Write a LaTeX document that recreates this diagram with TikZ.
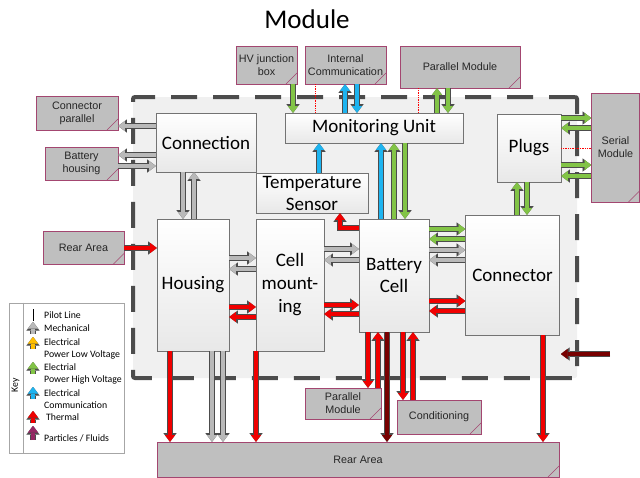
\documentclass[tikz,border=0pt]{standalone}
\usepackage{fontspec}
\setmainfont{Carlito}
\newfontfamily\arialfont{Liberation Sans}
\usetikzlibrary{arrows.meta}

\definecolor{boxedge}{RGB}{163,70,112}
\definecolor{elgreen}{RGB}{130,196,70}
\definecolor{elblue}{RGB}{30,180,240}
\definecolor{elorange}{RGB}{255,190,0}
\definecolor{thred}{RGB}{240,0,0}
\definecolor{darkred}{RGB}{120,0,0}
\definecolor{mechgray}{RGB}{185,185,185}
\definecolor{fluid}{RGB}{150,40,100}

\begin{document}
\begin{tikzpicture}[x=1pt,y=-1pt,
  box/.style={draw=black!55,line width=0.6pt,top color=white,bottom color=black!9,
    align=center,font=\fontsize{19}{23}\selectfont,inner sep=1pt},
  ext/.style={draw=boxedge,line width=0.6pt,fill=black!25,align=center,
    font=\arialfont\fontsize{10.8}{13}\selectfont,inner sep=1pt,text=black!85,
    path picture={\draw[boxedge,line width=0.6pt]
      ([xshift=-11pt]path picture bounding box.south east) --
      ([yshift=11pt]path picture bounding box.south east);}},
  modbox/.style={draw=black!70,line width=4pt,dash pattern=on 26pt off 16pt,
    fill=black!6,rounded corners=2pt},
  blk/.style={line width=3.4pt,draw=#1,-{Triangle[length=6.6pt,width=10pt,line width=0.01pt]},
    preaction={draw=black!70,line width=5.4pt,
      -{Triangle[length=8.6pt,width=13pt,line width=0.01pt]}}},
  pilot/.style={red,densely dotted,line width=0.7pt},
  keytxt/.style={anchor=west,align=left,font=\fontsize{9.8}{12}\selectfont,inner sep=0pt}]
\useasboundingbox (0,0) rectangle (640,477);

\node[font=\fontsize{27}{30}\selectfont] (title) at (307,19) {Module};
\node[modbox,minimum width=444,minimum height=281] (mod) at (355,237.5) {};

\node[box,minimum width=100,minimum height=59] (Con) at (206,142.5) {Connection};
\node[box,minimum width=178,minimum height=30] (MU) at (374,128) {Monitoring Unit};
\node[box,minimum width=112,minimum height=40,font=\fontsize{19}{22}\selectfont] (TS) at (312,193) {Temperature\\ Sensor};
\node[box,minimum width=64,minimum height=68] (Plg) at (529,148) {Plugs};
\node[box,minimum width=72,minimum height=132] (Hou) at (193,285) {Housing};
\node[box,minimum width=68,minimum height=132] (CM) at (290,285) {Cell\\ mount-\\ ing};
\node[box,minimum width=70,minimum height=113,font=\fontsize{19}{22}\selectfont] (BC) at (394,275.5) {Battery\\ Cell};
\node[box,minimum width=94,minimum height=120] (Ctr) at (512.5,275) {Connector};

\node[ext,minimum width=61,minimum height=38] (HV) at (266.5,65) {HV junction\\ box};
\node[ext,minimum width=81,minimum height=38] (IC) at (345.5,65) {Internal\\ Communication};
\node[ext,minimum width=120,minimum height=42] (PT) at (460,67) {Parallel Module};
\node[ext,minimum width=82,minimum height=34] (CP) at (77,113) {Connector\\ parallel};
\node[ext,minimum width=73,minimum height=33] (BH) at (81.5,163.5) {Battery\\ housing};
\node[ext,minimum width=81,minimum height=33] (RA) at (83.5,248) {Rear Area};
\node[ext,minimum width=48,minimum height=109] (SM) at (615.5,147.5) {Serial\\ Module};
\node[ext,minimum width=76,minimum height=31] (PB) at (343,403.5) {Parallel\\ Module};
\node[ext,minimum width=84,minimum height=34] (Cd) at (439,417) {Conditioning};
\node[ext,minimum width=402,minimum height=35] (RB) at (358,459.5) {Rear Area};

\coordinate (out) at (610,354);
\coordinate (in) at (561,354);

\draw[blk=elgreen] (HV.south -| 293,0) -- (MU.north -| 293,0);
\draw[pilot] (IC.south -| 315,0) -- (MU.north -| 315,0);
\draw[blk=elblue] (MU.north -| 345,0) -- (IC.south -| 345,0);
\draw[blk=elblue] (IC.south -| 357,0) -- (MU.north -| 357,0);
\draw[pilot] (PT.south -| 418,0) -- (MU.north -| 418,0);
\draw[blk=elgreen] (MU.north -| 437,0) -- (PT.south -| 437,0);
\draw[blk=elgreen] (PT.south -| 448,0) -- (MU.north -| 448,0);

\draw[blk=mechgray] (Con.west |- 0,126) -- (CP.east |- 0,126);
\draw[blk=mechgray] (Con.west |- 0,155) -- (BH.east |- 0,155);
\draw[blk=mechgray] (BH.east |- 0,166) -- (Con.west |- 0,166);
\draw[blk=mechgray] (Con.south -| 183,0) -- (Hou.north -| 183,0);
\draw[blk=mechgray] (Hou.north -| 194,0) -- (Con.south -| 194,0);

\draw[blk=elblue] (TS.north -| 319,0) -- (MU.south -| 319,0);
\draw[blk=elblue] (BC.north -| 381,0) -- (MU.south -| 381,0);
\draw[blk=elgreen] (BC.north -| 394,0) -- (MU.south -| 394,0);
\draw[blk=elgreen] (MU.south -| 405,0) -- (BC.north -| 405,0);
\draw[blk=thred] (BC.west |- 0,228) -| (TS.south -| 340,0);

\draw[blk=elgreen] (Plg.east |- 0,118) -- (SM.west |- 0,118);
\draw[blk=elgreen] (SM.west |- 0,128) -- (Plg.east |- 0,128);
\draw[pilot] (Plg.east |- 0,148) -- (SM.west |- 0,148);
\draw[blk=elgreen] (Plg.east |- 0,165) -- (SM.west |- 0,165);
\draw[blk=elgreen] (SM.west |- 0,176) -- (Plg.east |- 0,176);
\draw[blk=elgreen] (Ctr.north -| 517,0) -- (Plg.south -| 517,0);
\draw[blk=elgreen] (Plg.south -| 527,0) -- (Ctr.north -| 527,0);

\draw[blk=thred] (RA.east |- 0,248) -- (Hou.west |- 0,248);
\draw[blk=mechgray] (Hou.east |- 0,258) -- (CM.west |- 0,258);
\draw[blk=mechgray] (CM.west |- 0,269) -- (Hou.east |- 0,269);
\draw[blk=thred] (Hou.east |- 0,307) -- (CM.west |- 0,307);
\draw[blk=thred] (CM.west |- 0,317) -- (Hou.east |- 0,317);

\draw[blk=mechgray] (CM.east |- 0,249) -- (BC.west |- 0,249);
\draw[blk=mechgray] (BC.west |- 0,260) -- (CM.east |- 0,260);
\draw[blk=thred] (CM.east |- 0,305) -- (BC.west |- 0,305);
\draw[blk=thred] (BC.west |- 0,314) -- (CM.east |- 0,314);

\draw[blk=elgreen] (BC.east |- 0,229) -- (Ctr.west |- 0,229);
\draw[blk=elgreen] (Ctr.west |- 0,239) -- (BC.east |- 0,239);
\draw[blk=mechgray] (BC.east |- 0,250) -- (Ctr.west |- 0,250);
\draw[blk=mechgray] (Ctr.west |- 0,260) -- (BC.east |- 0,260);
\draw[blk=thred] (BC.east |- 0,301) -- (Ctr.west |- 0,301);
\draw[blk=thred] (Ctr.west |- 0,311) -- (BC.east |- 0,311);

\draw[blk=thred] (Hou.south -| 170,0) -- (RB.north -| 170,0);
\draw[blk=mechgray] (Hou.south -| 212,0) -- (RB.north -| 212,0);
\draw[blk=mechgray] (Hou.south -| 223,0) -- (RB.north -| 223,0);
\draw[blk=thred] (CM.south -| 256,0) -- (RB.north -| 256,0);
\draw[blk=thred] (BC.south -| 368,0) -- (PB.north -| 368,0);
\draw[blk=thred] (PB.north -| 378,0) -- (BC.south -| 378,0);
\draw[blk=darkred] (BC.south -| 387,0) -- (RB.north -| 387,0);
\draw[blk=thred] (BC.south -| 403,0) -- (Cd.north -| 403,0);
\draw[blk=thred] (Cd.north -| 413,0) -- (BC.south -| 413,0);
\draw[blk=thred] (Ctr.south -| 543,0) -- (RB.north -| 543,0);
\draw[blk=darkred] (out) -- (in);

\node[draw=black!35,line width=0.6pt,fill=white,minimum width=115,minimum height=150] (key) at (66.5,378) {};
\draw[black!35,line width=0.6pt] (key.north -| 23,0) -- (key.south -| 23,0);
\node[rotate=90,font=\fontsize{9.8}{11}\selectfont] (keylab) at (15.5,385) {Key};
\draw[black,line width=0.6pt] (33,309) -- (33,321);
\draw[blk=mechgray] (33,334) -- (33,322);
\draw[blk=elorange] (33,349) -- (33,337);
\draw[blk=elgreen] (33,374) -- (33,362);
\draw[blk=elblue] (33,399) -- (33,387);
\draw[blk=thred] (33,423) -- (33,411);
\draw[blk=fluid] (33,440) -- (33,426);
\node[keytxt] (k1) at (44,315) {Pilot Line};
\node[keytxt] (k2) at (44,328) {Mechanical};
\node[keytxt] (k3) at (44,349) {Electrical\\ Power Low Voltage};
\node[keytxt] (k4) at (44,374) {Electrial\\ Power High Voltage};
\node[keytxt] (k5) at (44,399) {Electrical\\ Communication};
\node[keytxt] (k6) at (46,417) {Thermal};
\node[keytxt] (k7) at (44,438) {Particles / Fluids};
\end{tikzpicture}
\end{document}
